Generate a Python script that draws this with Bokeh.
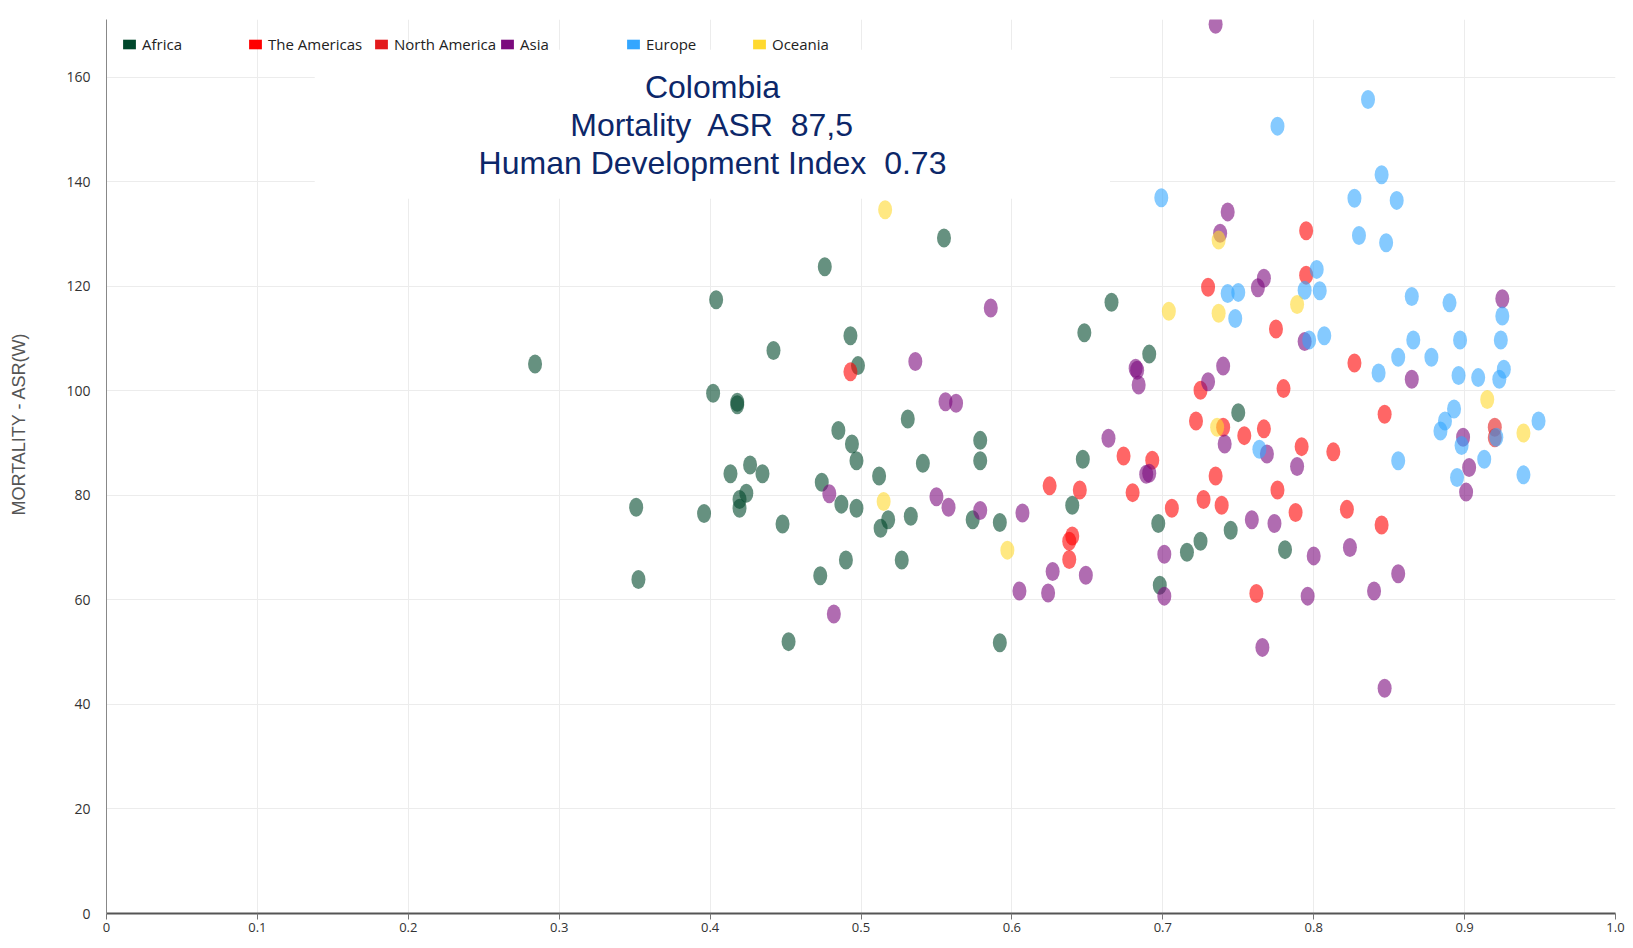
import math
from bokeh.plotting import figure
from bokeh.models import (Range1d, FixedTicker, Label, BoxAnnotation, Legend, LegendItem, Title)
from bokeh.embed import file_html
from bokeh.resources import INLINE

# ---------------- data ----------------
regions = ["Africa", "The Americas", "North America", "Asia", "Europe", "Oceania"]
region_colors = ["#00472b", "#ff0000", "#e31a1c", "#7b0a7d", "#33a6ff", "#ffd92f"]

africa_hdi = [0.284, 0.351, 0.3525, 0.396, 0.402, 0.404, 0.418, 0.418, 0.4135, 0.4265,
              0.4347, 0.424, 0.4195, 0.4195, 0.442, 0.448, 0.452, 0.474, 0.473, 0.476,
              0.485, 0.487, 0.490, 0.493, 0.494, 0.497, 0.497, 0.498, 0.512, 0.513,
              0.518, 0.527, 0.531, 0.533, 0.541, 0.555, 0.574, 0.579, 0.579, 0.592,
              0.592, 0.640, 0.647, 0.648, 0.666, 0.691, 0.697, 0.698, 0.716, 0.725,
              0.745, 0.750, 0.781]
africa_asr = [105.1, 77.7, 63.9, 76.5, 99.5, 117.4, 97.8, 97.3, 84.1, 85.8,
              84.1, 80.4, 79.2, 77.5, 107.7, 74.5, 52.0, 82.5, 64.6, 123.7,
              92.4, 78.3, 67.6, 110.5, 89.8, 86.6, 77.5, 104.8, 83.7, 73.7,
              75.3, 67.6, 94.6, 76.0, 86.1, 129.2, 75.3, 90.5, 86.6, 74.8,
              51.8, 78.1, 86.9, 111.1, 116.9, 107.0, 74.6, 62.8, 69.1, 71.2,
              73.3, 95.8, 69.6]

americas_hdi = [0.493, 0.625, 0.645, 0.640, 0.638, 0.638, 0.674, 0.680, 0.693, 0.706,
                0.722, 0.725, 0.727, 0.730, 0.735, 0.739, 0.740, 0.754, 0.762, 0.767,
                0.775, 0.776, 0.780, 0.788, 0.792, 0.795, 0.795, 0.813, 0.822, 0.827,
                0.845, 0.847]
americas_asr = [103.6, 81.8, 81.0, 72.2, 71.2, 67.7, 87.5, 80.5, 86.7, 77.5,
                94.2, 100.1, 79.2, 119.8, 83.7, 78.1, 93.0, 91.4, 61.2, 92.7,
                111.8, 81.0, 100.4, 76.7, 89.3, 130.6, 122.1, 88.3, 77.3, 105.3,
                74.3, 95.5]

north_america_hdi = [0.920, 0.920]
north_america_asr = [93.0, 91.0]

asia_hdi = [0.479, 0.482, 0.536, 0.550, 0.556, 0.558, 0.563, 0.579, 0.586, 0.605,
            0.607, 0.624, 0.627, 0.649, 0.664, 0.682, 0.683, 0.684, 0.689, 0.691,
            0.701, 0.701, 0.730, 0.735, 0.738, 0.740, 0.741, 0.743, 0.759, 0.763,
            0.767, 0.766, 0.769, 0.774, 0.789, 0.794, 0.796, 0.800, 0.824, 0.840,
            0.847, 0.856, 0.865, 0.899, 0.901, 0.903, 0.925]
asia_asr = [80.3, 57.3, 105.6, 79.7, 97.9, 77.7, 97.6, 77.1, 115.8, 61.7,
            76.6, 61.3, 65.4, 64.7, 90.9, 104.3, 103.9, 101.1, 84.0, 84.2,
            68.7, 60.7, 101.7, 170.1, 130.1, 104.7, 89.8, 134.2, 75.3, 119.7,
            121.5, 50.9, 87.9, 74.6, 85.5, 109.4, 60.7, 68.4, 70.0, 61.7,
            43.1, 65.0, 102.2, 91.1, 80.6, 85.3, 117.6]

europe_hdi = [0.699, 0.743, 0.748, 0.750, 0.764, 0.776, 0.794, 0.797, 0.802, 0.804,
              0.807, 0.827, 0.830, 0.836, 0.843, 0.845, 0.848, 0.855, 0.856, 0.856,
              0.865, 0.866, 0.878, 0.884, 0.887, 0.890, 0.893, 0.895, 0.896, 0.897,
              0.898, 0.909, 0.913, 0.921, 0.923, 0.924, 0.925, 0.926, 0.939, 0.949]
europe_asr = [136.9, 118.6, 113.8, 118.8, 88.8, 150.6, 119.2, 109.7, 123.2, 119.1,
              110.5, 136.8, 129.7, 155.7, 103.4, 141.3, 128.3, 136.4, 106.4, 86.6,
              118.0, 109.7, 106.4, 92.3, 94.2, 116.8, 96.5, 83.4, 102.9, 109.7,
              89.5, 102.5, 86.9, 91.1, 102.2, 109.7, 114.3, 104.1, 83.9, 94.2]

oceania_hdi = [0.515, 0.516, 0.597, 0.704, 0.736, 0.737, 0.737, 0.789, 0.915, 0.939]
oceania_asr = [78.8, 134.6, 69.5, 115.2, 93.0, 128.8, 114.8, 116.5, 98.3, 91.9]

series_hdi = [africa_hdi, americas_hdi, north_america_hdi, asia_hdi, europe_hdi, oceania_hdi]
series_asr = [africa_asr, americas_asr, north_america_asr, asia_asr, europe_asr, oceania_asr]

x_ticks = [0, 0.1, 0.2, 0.3, 0.4, 0.5, 0.6, 0.7, 0.8, 0.9, 1.0]
x_tick_labels = ["0", "0.1", "0.2", "0.3", "0.4", "0.5", "0.6", "0.7", "0.8", "0.9", "1.0"]
y_ticks = [0, 20, 40, 60, 80, 100, 120, 140, 160]

title_lines = ["Colombia", "Mortality\u00a0 ASR\u00a0 87,5", "Human Development Index\u00a0 0.73"]
title_y = [158.0, 150.8, 143.5]
y_axis_title = "MORTALITY - ASR(W)"

# ---------------- figure ----------------
p = figure(width=1625, height=940, output_backend="svg", toolbar_location=None,
           x_range=Range1d(0, 1), y_range=Range1d(0, 171),
           min_border_left=106, min_border_right=10, min_border_top=19, min_border_bottom=27)
p.outline_line_color = None
p.background_fill_color = "white"
p.border_fill_color = "white"

p.xgrid.grid_line_color = "#ececec"
p.ygrid.grid_line_color = "#ececec"

p.xaxis.ticker = FixedTicker(ticks=x_ticks)
p.xaxis.major_label_overrides = {t: l for t, l in zip(x_ticks, x_tick_labels)}
p.xaxis.axis_line_color = "#555555"
p.xaxis.axis_line_width = 2
p.xaxis.major_tick_line_color = "#777777"
p.xaxis.major_tick_out = 6
p.xaxis.major_tick_in = 0
p.xaxis.minor_tick_line_color = None
p.xaxis.major_label_standoff = 3
p.xaxis.major_label_text_font = "Open Sans"
p.xaxis.major_label_text_font_size = "13px"
p.xaxis.major_label_text_color = "#333333"

p.yaxis.ticker = FixedTicker(ticks=y_ticks)
p.yaxis.axis_line_color = "#888888"
p.yaxis.major_tick_line_color = None
p.yaxis.minor_tick_line_color = None
p.yaxis.major_label_standoff = 10
p.yaxis.major_label_text_font = "Open Sans"
p.yaxis.major_label_text_font_size = "14px"
p.yaxis.major_label_text_color = "#333333"

# points
for name, col, xs, ys in zip(regions, region_colors, series_hdi, series_asr):
    p.ellipse(x=xs, y=ys, width=14, height=19, width_units="screen", height_units="screen",
              fill_color=col, fill_alpha=0.6, line_color=None)

# legend swatches (off-range dummy squares)
items = []
for name, col in zip(regions, region_colors):
    r = p.rect(x=[-5], y=[-500], width=0.01, height=1, fill_color=col, line_color=None)
    items.append(LegendItem(label=name, renderers=[r]))
legend = Legend(items=items, orientation="horizontal", location="top_left",
                margin=15, padding=0, spacing=1, glyph_width=16, glyph_height=12,
                label_standoff=5, label_width=104,
                label_text_font="Open Sans", label_text_font_size="15px",
                label_text_color="#222222",
                background_fill_alpha=0, border_line_color=None)
p.add_layout(legend)

# white title box
box = BoxAnnotation(left=0.138, right=0.665, bottom=136.7, top=165.2,
                    fill_color="white", fill_alpha=1.0, line_color=None)
p.add_layout(box)

for txt, ty in zip(title_lines, title_y):
    p.add_layout(Label(x=0.4016, y=ty, text=txt, text_align="center", text_baseline="middle",
                       text_font="Liberation Sans", text_font_size="32px", text_color="#0c2769"))

# y axis title in the left panel
ytitle = Title(text=y_axis_title, align="left", offset=398, standoff=0,
               padding=dict(left=0, right=0, top=0, bottom=35),
               text_font="Liberation Sans", text_font_size="18px",
               text_font_style="normal", text_color="#555555")
p.add_layout(ytitle, "left")

open("out.html", "w").write(file_html(p, INLINE))
